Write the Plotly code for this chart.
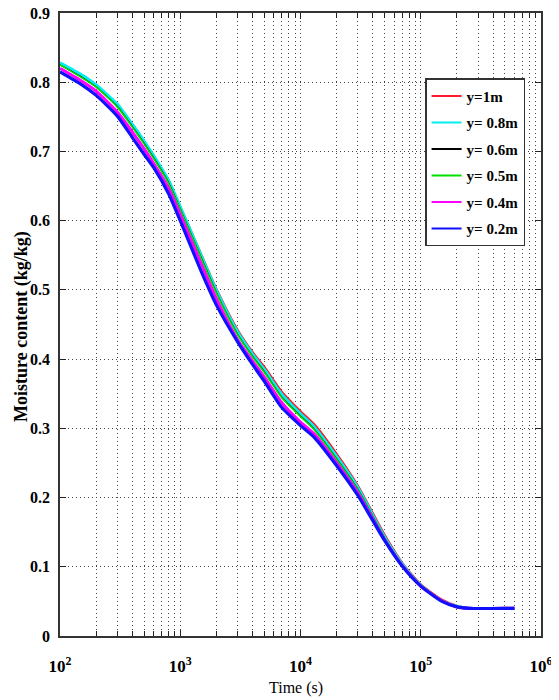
import plotly.graph_objects as go

# ---- data ----
time_s = [100, 150, 200, 300, 400, 500, 600, 800, 1000, 1500, 2000, 3000, 4000, 5000,
          7000, 10000, 13000, 20000, 30000, 50000, 70000, 100000, 150000, 200000, 250000, 600000]

mc_y1m = [0.827, 0.810, 0.795, 0.767, 0.738, 0.714, 0.693, 0.657, 0.619, 0.549, 0.500, 0.441, 0.409,
          0.388, 0.352, 0.324, 0.305, 0.262, 0.216, 0.145, 0.105, 0.074, 0.052, 0.043, 0.040, 0.040]
mc_y08m = [0.828, 0.811, 0.796, 0.768, 0.739, 0.715, 0.694, 0.658, 0.620, 0.549, 0.499, 0.439, 0.407,
           0.385, 0.349, 0.321, 0.302, 0.259, 0.214, 0.143, 0.104, 0.073, 0.051, 0.043, 0.040, 0.040]
mc_y06m = [0.825, 0.808, 0.793, 0.765, 0.736, 0.712, 0.691, 0.655, 0.617, 0.546, 0.496, 0.436, 0.404,
           0.382, 0.345, 0.318, 0.299, 0.256, 0.212, 0.142, 0.103, 0.073, 0.051, 0.043, 0.040, 0.040]
mc_y05m = [0.825, 0.807, 0.793, 0.764, 0.735, 0.711, 0.690, 0.654, 0.616, 0.545, 0.495, 0.435, 0.403,
           0.381, 0.344, 0.317, 0.298, 0.255, 0.211, 0.141, 0.103, 0.073, 0.051, 0.043, 0.040, 0.040]
mc_y04m = [0.820, 0.802, 0.787, 0.757, 0.728, 0.704, 0.683, 0.647, 0.609, 0.537, 0.487, 0.428, 0.397,
           0.374, 0.337, 0.309, 0.292, 0.250, 0.207, 0.139, 0.102, 0.072, 0.051, 0.042, 0.040, 0.040]
mc_y02m = [0.815, 0.797, 0.781, 0.751, 0.720, 0.696, 0.677, 0.639, 0.600, 0.526, 0.478, 0.425, 0.392,
           0.368, 0.330, 0.304, 0.287, 0.246, 0.203, 0.138, 0.101, 0.072, 0.050, 0.042, 0.040, 0.040]

series_names = ["y=1m", "y= 0.8m", "y= 0.6m", "y= 0.5m", "y= 0.4m", "y= 0.2m"]
series_values = [mc_y1m, mc_y08m, mc_y06m, mc_y05m, mc_y04m, mc_y02m]

x_tickvals = [1e2, 1e3, 1e4, 1e5, 1e6]
x_ticktext = ["10<sup>2</sup>", "10<sup>3</sup>", "10<sup>4</sup>", "10<sup>5</sup>", "10<sup>6</sup>"]
y_tickvals = [0, 0.1, 0.2, 0.3, 0.4, 0.5, 0.6, 0.7, 0.8, 0.9]
y_ticktext = ["0", "0.1", "0.2", "0.3", "0.4", "0.5", "0.6", "0.7", "0.8", "0.9"]
x_title = "Time (s)"
y_title = "Moisture content (kg/kg)"

# ---- styles ----
colors = ["#ff1a2e", "#00f0f0", "#000000", "#00e000", "#ff00ff", "#1010ff"]
widths = [3.0, 3.0, 1.2, 1.6, 3.0, 3.2]
FONT = "Liberation Serif"

fig = go.Figure()
for name, vals, c, w in zip(series_names, series_values, colors, widths):
    fig.add_trace(go.Scatter(x=time_s, y=vals, mode="lines", name=name,
                             line=dict(color=c, width=w, shape="spline", smoothing=0.6),
                             showlegend=False))
# thin legend entries
for i, (name, c) in enumerate(zip(series_names, colors)):
    fig.add_trace(go.Scatter(x=[None], y=[None], mode="lines", name=name,
                             line=dict(color=c, width=2), legendgroup="g%d" % i,
                             showlegend=True))

minor_x = [m * 10 ** d for d in range(2, 6) for m in range(2, 10)]

grid_style = dict(gridcolor="#444444", gridwidth=1, griddash="1px,3px")

# page body has an 8px margin, so the figure is 8px smaller than the window
fig.update_layout(
    width=551, height=692,
    margin=dict(l=52, r=18, t=5, b=64, autoexpand=False),
    plot_bgcolor="white", paper_bgcolor="white",
    font=dict(family=FONT, color="black"),
    legend=dict(x=0.759, y=0.8954, xanchor="left", yanchor="top",
                bgcolor="white", bordercolor="#333333", borderwidth=1.5,
                font=dict(family=FONT, size=15, color="black", weight="bold"),
                tracegroupgap=4, traceorder="grouped"),
    xaxis=dict(type="log", range=[2, 6], tickmode="array", tickvals=x_tickvals, ticktext=x_ticktext,
               ticks="inside", ticklen=6, tickcolor="#222", mirror="allticks",
               showline=True, linecolor="#333333", linewidth=1.5, automargin=False,
               showgrid=True, **grid_style, zeroline=False, ticklabeloverflow="allow",
               tickfont=dict(family=FONT, size=17, color="black", weight="bold"),
               ticklabelstandoff=14,
               minor=dict(tickmode="array", tickvals=minor_x, ticks="inside", ticklen=5,
                          tickcolor="#222", showgrid=True, **grid_style)),
    yaxis=dict(range=[0, 0.9], tickmode="array", tickvals=y_tickvals, ticktext=y_ticktext,
               ticks="inside", ticklen=6, tickcolor="#222", mirror="allticks",
               showline=True, linecolor="#333333", linewidth=1.5, automargin=False,
               showgrid=True, **grid_style, zeroline=False, ticklabeloverflow="allow",
               tickfont=dict(family=FONT, size=16, color="black", weight="bold"),
               ticklabelstandoff=5),
)

fig.add_annotation(text=x_title, xref="paper", yref="paper", x=0.49, y=-0.0835,
                   xanchor="center", yanchor="middle", showarrow=False,
                   font=dict(family=FONT, size=16, color="black"))
fig.add_annotation(text=y_title, xref="paper", yref="paper", x=-0.080, y=0.497,
                   xanchor="center", yanchor="middle", showarrow=False, textangle=-90,
                   font=dict(family=FONT, size=18, color="black", weight="bold"))

fig.write_html("out.html")
